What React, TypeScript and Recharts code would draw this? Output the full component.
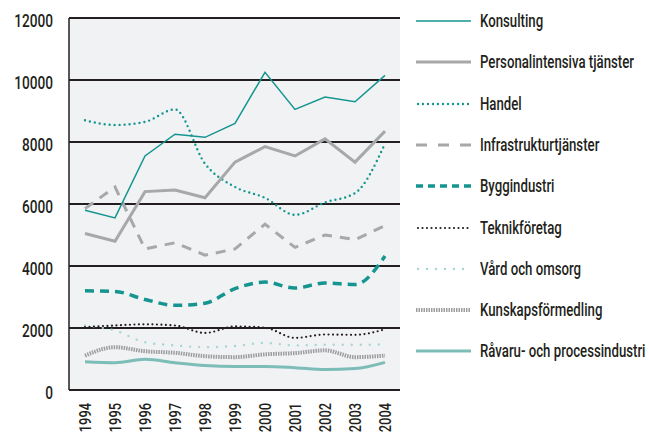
import React from "react";
import { CartesianGrid, Line, LineChart, XAxis, YAxis } from "recharts";

const years = ["1994", "1995", "1996", "1997", "1998", "1999", "2000", "2001", "2002", "2003", "2004"];
const yTicks = [0, 2000, 4000, 6000, 8000, 10000, 12000];

const konsulting = [5800, 5550, 7550, 8250, 8150, 8600, 10250, 9050, 9450, 9300, 10150];
const personal = [5050, 4800, 6400, 6450, 6200, 7350, 7850, 7550, 8100, 7350, 8350];
const handel = [8700, 8550, 8650, 9050, 7300, 6550, 6200, 5650, 6050, 6350, 7950];
const infra = [5850, 6550, 4550, 4750, 4350, 4550, 5350, 4600, 5000, 4850, 5300];
const bygg = [3200, 3180, 2920, 2730, 2800, 3270, 3480, 3290, 3450, 3400, 4320];
const teknik = [2030, 2080, 2120, 2080, 1840, 2050, 2010, 1680, 1790, 1780, 1960];
const vard = [2080, 1920, 1540, 1440, 1380, 1420, 1520, 1440, 1460, 1460, 1470];
const kunskap = [1110, 1380, 1250, 1200, 1090, 1060, 1150, 1190, 1280, 1060, 1110];
const ravaru = [910, 880, 990, 880, 790, 760, 760, 720, 660, 690, 890];

const FONT = "Roboto, 'Liberation Sans', sans-serif";
const SQUEEZE = 0.78;
const LEGEND_SQUEEZE = 0.755;

type S = {
  key: string;
  name: string;
  values: number[];
  color: string;
  width: number;
  dash?: string;
  cap?: "round" | "butt";
  curve: "linear" | "monotone";
  legendDash?: string;
};

const series: S[] = [
  { key: "konsulting", name: "Konsulting", values: konsulting, color: "#15958f", width: 1.5, curve: "linear" },
  { key: "personal", name: "Personalintensiva tjänster", values: personal, color: "#a7a8aa", width: 3, curve: "linear" },
  { key: "handel", name: "Handel", values: handel, color: "#15958f", width: 2.4, dash: "0 5", cap: "round", curve: "monotone" },
  { key: "infra", name: "Infrastrukturtjänster", values: infra, color: "#a7a8aa", width: 3, dash: "10 8", curve: "linear", legendDash: "11 11" },
  { key: "bygg", name: "Byggindustri", values: bygg, color: "#15958f", width: 3.5, dash: "9 6", curve: "monotone", legendDash: "7 5" },
  { key: "teknik", name: "Teknikföretag", values: teknik, color: "#231f20", width: 2.2, dash: "0 4.5", cap: "round", curve: "monotone" },
  { key: "vard", name: "Vård och omsorg", values: vard, color: "#a6d5d2", width: 2.4, dash: "0 9", cap: "round", curve: "monotone" },
  { key: "kunskap", name: "Kunskapsförmedling", values: kunskap, color: "#9d9d9f", width: 4, dash: "1.5 1", curve: "monotone" },
  { key: "ravaru", name: "Råvaru- och processindustri", values: ravaru, color: "#7dbdb8", width: 3, curve: "monotone" },
];

const data = years.map((year, i) => {
  const row: Record<string, string | number> = { year };
  series.forEach((s) => {
    row[s.key] = s.values[i];
  });
  return row;
});

const YearTick = (props: any) => {
  const { x, y, payload } = props;
  return (
    <text
      x={0}
      y={0}
      transform={`translate(${x} ${y}) rotate(-90) scale(${SQUEEZE} 1)`}
      textAnchor="end"
      dominantBaseline="central"
      fontSize={16.5}
      fontWeight={500}
      fontFamily={FONT}
      fill="#231f20"
    >
      {payload.value}
    </text>
  );
};

const ValueTick = (props: any) => {
  const { x, y, payload } = props;
  return (
    <text
      x={0}
      y={0}
      transform={`translate(${x} ${y + 3}) scale(${SQUEEZE} 1)`}
      textAnchor="end"
      dominantBaseline="central"
      fontSize={17.5}
      fontWeight={500}
      fontFamily={FONT}
      fill="#231f20"
    >
      {payload.value}
    </text>
  );
};

const LegendBox = () => (
  <div style={{ position: "absolute", left: 416, top: 0 }}>
    {series.map((s, i) => (
      <div
        key={s.key}
        style={{
          position: "absolute",
          top: 21 + i * 41.3 - 12,
          left: 0,
          height: 24,
          display: "flex",
          alignItems: "center",
          whiteSpace: "nowrap",
        }}
      >
        <svg width={56} height={24} style={{ display: "block" }}>
          <line
            x1={s.cap === "round" ? 2 : 0}
            x2={55}
            y1={12}
            y2={12}
            stroke={s.color}
            strokeWidth={s.width}
            strokeDasharray={s.legendDash ?? s.dash}
            strokeLinecap={s.cap ?? "butt"}
          />
        </svg>
        <span
          style={{
            marginLeft: 8,
            fontSize: 17.5,
            fontWeight: 500,
            fontFamily: FONT,
            color: "#231f20",
            display: "inline-block",
            transform: `scaleX(${LEGEND_SQUEEZE})`,
            transformOrigin: "left center",
          }}
        >
          {s.name}
        </span>
      </div>
    ))}
  </div>
);

export default function App() {
  return (
    <div style={{ position: "absolute", left: 0, top: 0, width: 649, height: 434, background: "#fff", overflow: "hidden" }}>
      <LineChart width={649} height={434} data={data} margin={{ top: 18, right: 249, bottom: 0, left: 0 }}>
        <CartesianGrid horizontal vertical={false} stroke="#231f20" strokeWidth={2} fill="#f1f2f4" fillOpacity={1} />
        <XAxis
          dataKey="year"
          scale="point"
          padding={{ left: 16, right: 15 }}
          height={44}
          tickLine={false}
          tickSize={0}
          tickMargin={13}
          axisLine={false}
          interval={0}
          tick={<YearTick />}
        />
        <YAxis
          domain={[0, 12000]}
          ticks={yTicks}
          width={69}
          tickLine={false}
          tickSize={0}
          tickMargin={16}
          axisLine={{ stroke: "#231f20", strokeWidth: 1.5 }}
          tick={<ValueTick />}
          interval={0}
        />
        <YAxis
          yAxisId="frame"
          orientation="right"
          domain={[0, 12000]}
          width={0}
          tick={false}
          tickLine={false}
          axisLine={{ stroke: "#8d8e90", strokeWidth: 1.5 }}
        />
        {[...series].reverse().map((s) => (
          <Line
            key={s.key}
            type={s.curve}
            dataKey={s.key}
            name={s.name}
            stroke={s.color}
            strokeWidth={s.width}
            strokeDasharray={s.dash}
            strokeLinecap={s.cap ?? "butt"}
            dot={false}
            activeDot={false}
            isAnimationActive={false}
          />
        ))}
      </LineChart>
      <LegendBox />
    </div>
  );
}
